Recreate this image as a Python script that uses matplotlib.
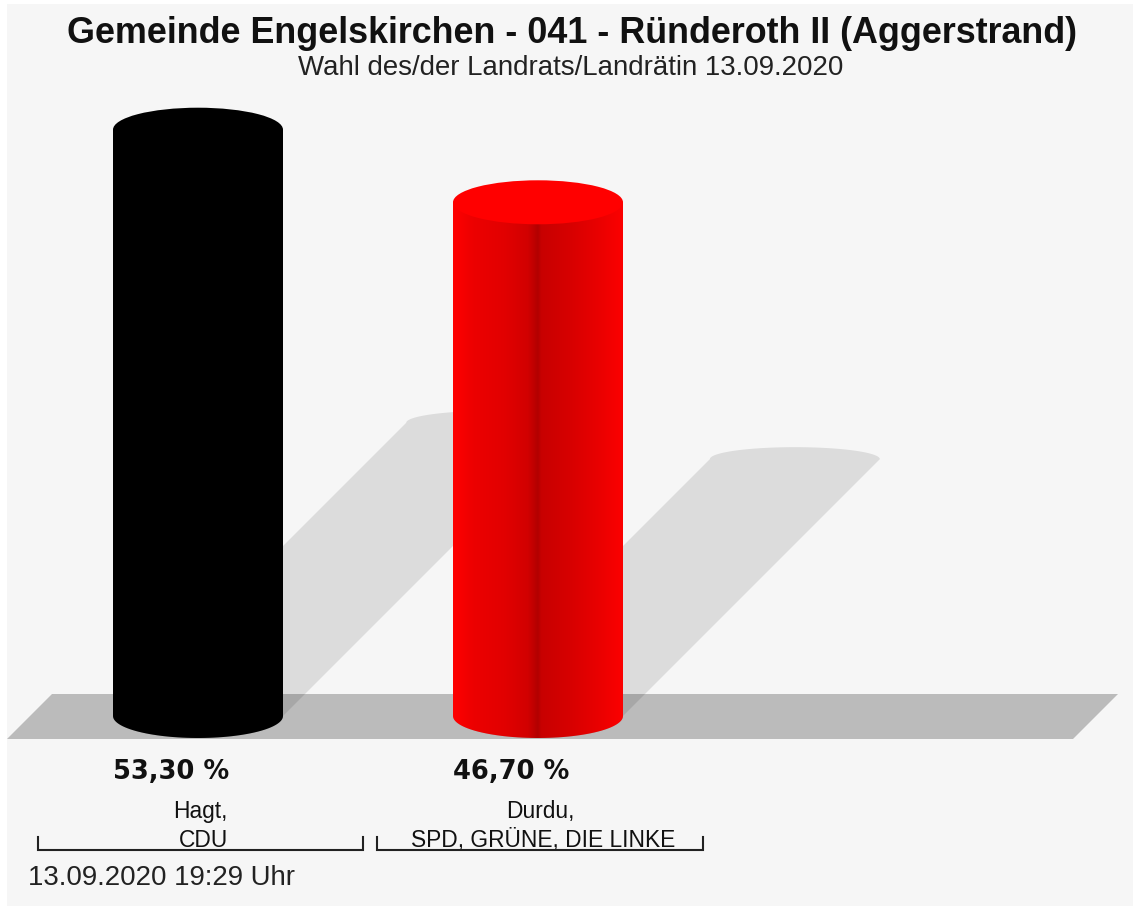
import matplotlib.pyplot as plt
import numpy as np
from matplotlib.colors import LinearSegmentedColormap
from matplotlib.patches import Polygon, Ellipse, Rectangle

title = "Gemeinde Engelskirchen - 041 - Ründeroth II (Aggerstrand)"
subtitle = "Wahl des/der Landrats/Landrätin 13.09.2020"
stamp = "13.09.2020 19:29 Uhr"
candidates = ["Hagt,\nCDU", "Durdu,\nSPD, GRÜNE, DIE LINKE"]
shares = [53.30, 46.70]

# shading across each cylinder, left edge -> right edge
shading = [
    [(0.0, "#000000"), (1.0, "#000000")],
    [(0.0, "#ff0000"), (0.12, "#ec0000"), (0.3, "#e20000"), (0.44, "#d20000"),
     (0.5, "#b20000"), (0.52, "#c80000"), (0.7, "#d80000"), (0.88, "#ec0000"),
     (1.0, "#fc0000")],
]
cap_colors = ["#000000", "#ff0000"]

W, H = 1133, 906
BASE = 716        # pixel row of the cylinder bases
PX = 11.0         # pixels per percent
X0, STEP = 198, 340
R = 85            # cylinder half width (px)
EY = 22 / PX      # ellipse half height in axis units
SEY = 12 / PX     # flatter ellipse on the shadow top


def yp(p):
    # pixel row -> axis units
    return (BASE - p) / PX


fig = plt.figure(figsize=(W / 100, H / 100), dpi=100, facecolor="white")
ax = fig.add_axes([0, 0, 1, 1])
ax.axis("off")
ax.add_patch(Rectangle((7, yp(H)), W - 7, yp(4) - yp(H), facecolor="#f6f6f6",
                       edgecolor="none", zorder=0))

# floor
ax.add_patch(Polygon([(7, yp(739)), (52, yp(694)), (1118, yp(694)), (1073, yp(739))],
                     closed=True, facecolor="#bbbbbb", edgecolor="none", zorder=1))

t_low = np.linspace(np.pi, 2 * np.pi, 60)
t_up = np.linspace(0, np.pi, 60)

for i, v in enumerate(shares):
    cx = X0 + STEP * i

    # shadow thrown up and to the right, half the height
    hs = 0.5 * v
    sx = hs * PX
    pts = [(cx + R * np.cos(t), EY * np.sin(t)) for t in t_low]
    pts += [(cx + sx + R * np.cos(t), hs + SEY * np.sin(t)) for t in t_up]
    ax.add_patch(Polygon(pts, closed=True, facecolor="black", alpha=0.1,
                         edgecolor="none", zorder=2))

    # cylinder body with horizontal shading
    body_pts = [(cx + R * np.cos(t), EY * np.sin(t)) for t in t_low]
    body_pts += [(cx + R, v), (cx - R, v)]
    body = Polygon(body_pts, closed=True, facecolor="none", edgecolor="none",
                   transform=ax.transData)
    ax.add_patch(body)
    cmap = LinearSegmentedColormap.from_list(f"cyl{i}", shading[i])
    grad = np.linspace(0, 1, 256).reshape(1, -1)
    im = ax.imshow(grad, extent=(cx - R, cx + R, -EY, v), cmap=cmap,
                   aspect="auto", interpolation="bilinear", zorder=4)
    im.set_clip_path(body)

    # top cap
    ax.add_patch(Ellipse((cx, v), 2 * R, 2 * EY, facecolor=cap_colors[i],
                         edgecolor="none", zorder=5))

    # value label, left aligned with the cylinder
    ax.text(cx - R, yp(779), f"{v:.2f} %".replace(".", ","), ha="left",
            va="baseline", fontsize=18.5, fontweight="bold",
            family="DejaVu Sans", color="#111111")

# category labels with brackets underneath
brackets = [(38, 363), (377, 703)]
for (xl, xr), name in zip(brackets, candidates):
    xc = (xl + xr) / 2
    first, second = name.split("\n")
    ax.text(xc, yp(818), first, ha="center", va="baseline", fontsize=16.4,
            family="Liberation Sans", color="#111111")
    ax.text(xc + 3, yp(847), second, ha="center", va="baseline", fontsize=16.4,
            family="Liberation Sans", color="#111111")
    ax.plot([xl, xl, xr, xr], [yp(837), yp(850), yp(850), yp(837)],
            color="#222222", lw=1.5, solid_joinstyle="miter", zorder=6)

ax.text(572, yp(43), title, ha="center", va="baseline", fontsize=25.8,
        fontweight="bold", family="Liberation Sans", color="#111111")
ax.text(571, yp(75), subtitle, ha="center", va="baseline", fontsize=19.9,
        family="Liberation Sans", color="#222222")
ax.text(28, yp(885), stamp, ha="left", va="baseline", fontsize=19.9,
        family="Liberation Sans", color="#222222")

ax.set_xlim(0, W)
ax.set_ylim(yp(H), yp(0))

fig.savefig("out.png", dpi=100, facecolor="white")
